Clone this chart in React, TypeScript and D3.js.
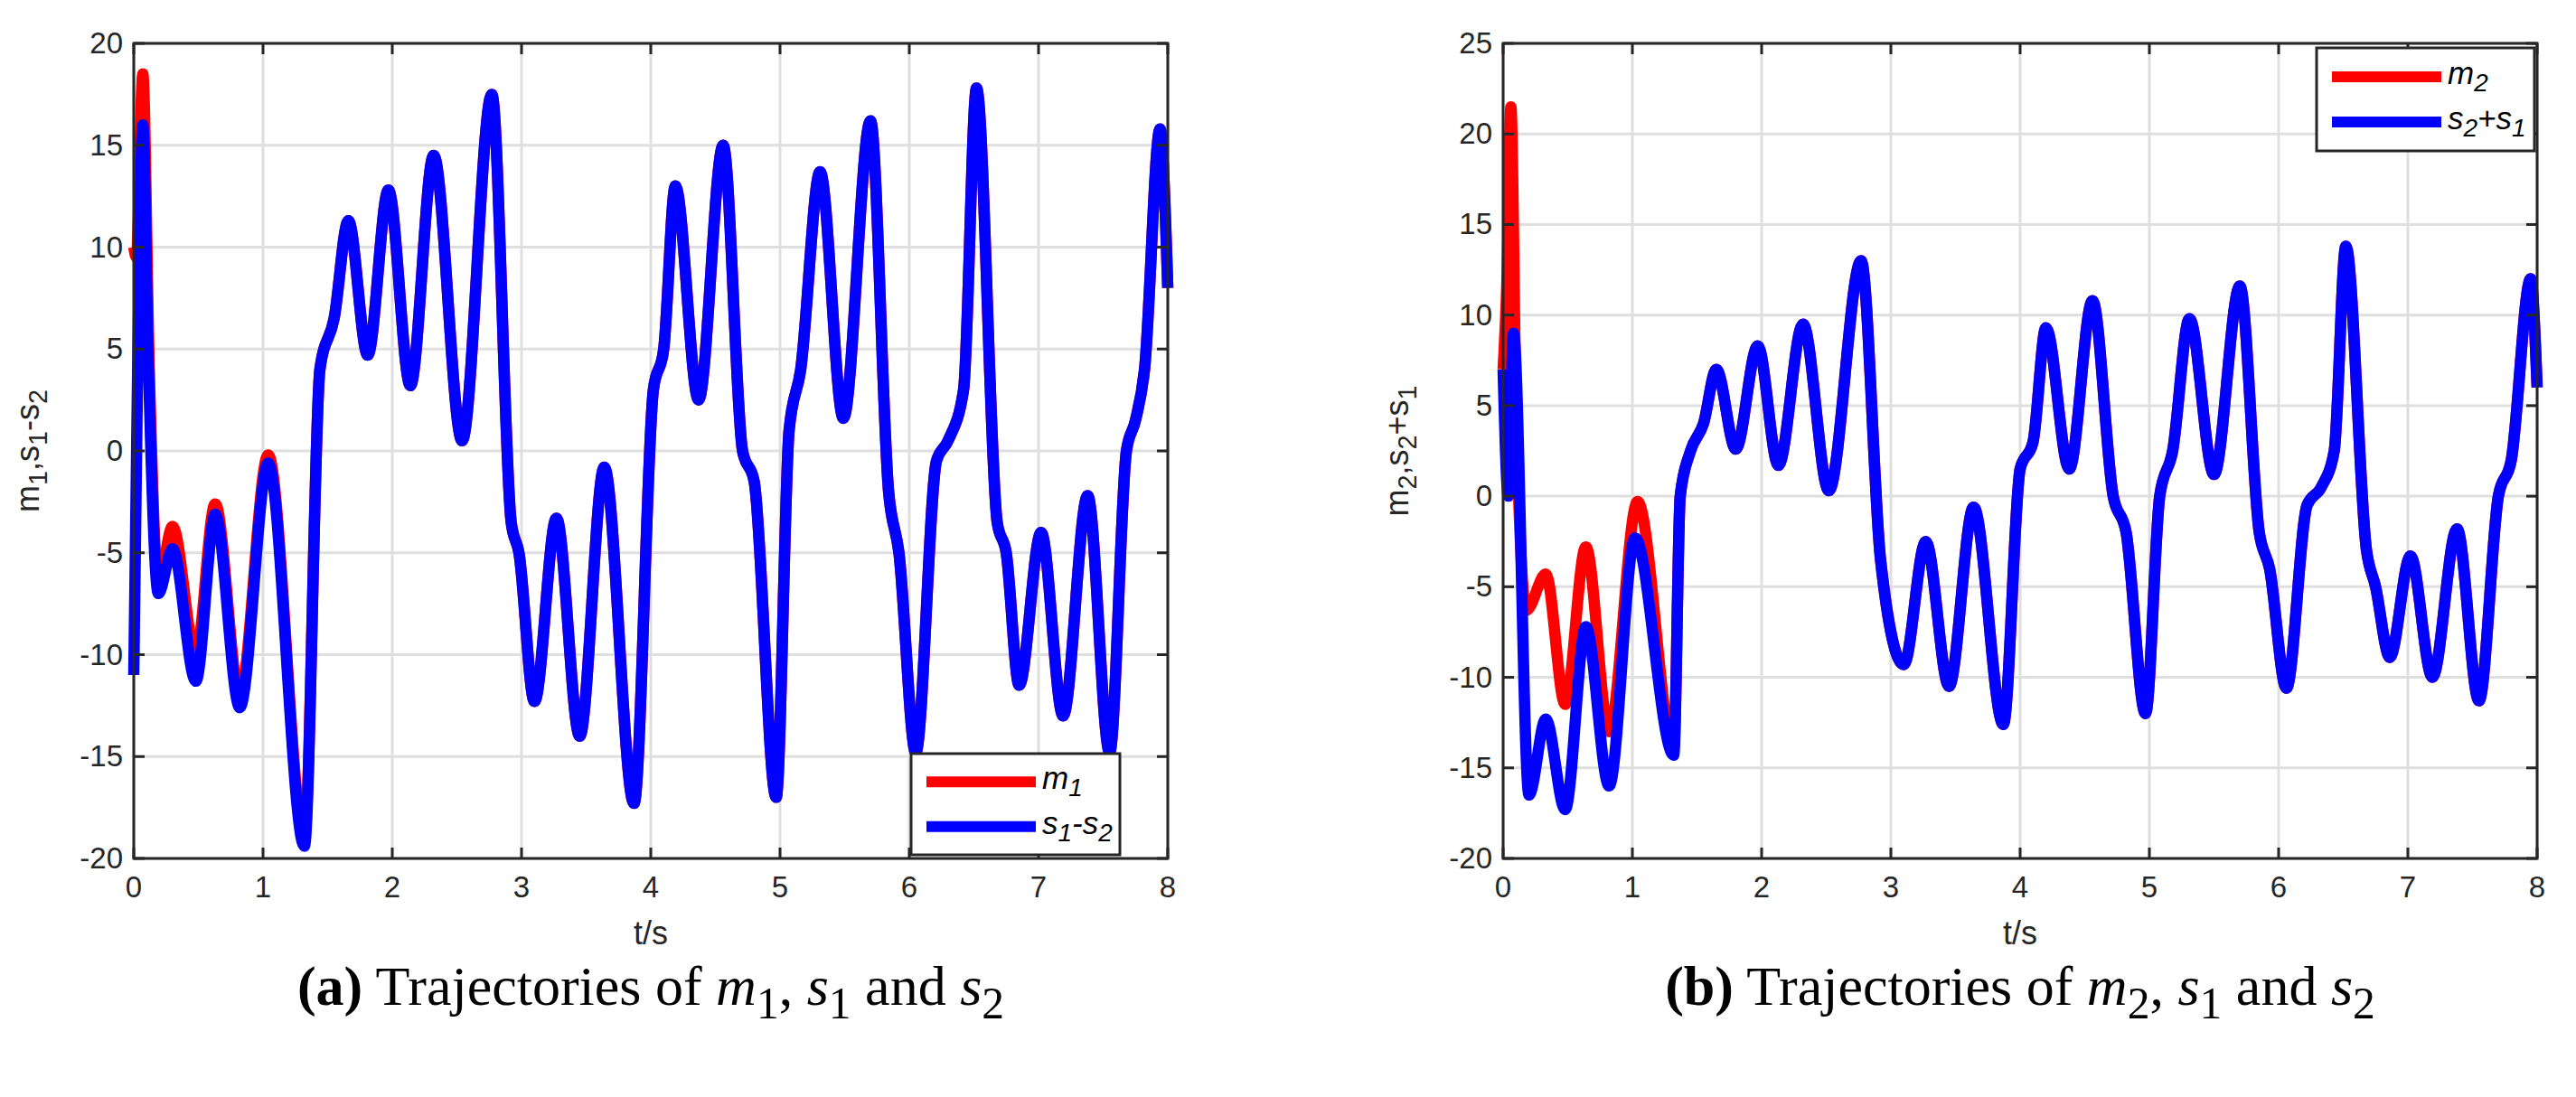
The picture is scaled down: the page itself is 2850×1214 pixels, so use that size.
import React from "react";
import * as d3 from "d3";

const xTicks = [0, 1, 2, 3, 4, 5, 6, 7, 8];
const yTicksA = [-20, -15, -10, -5, 0, 5, 10, 15, 20];
const yTicksB = [-20, -15, -10, -5, 0, 5, 10, 15, 20, 25];

// Panel (a): s1 - s2 (blue)
const tA = [0, 0.03, 0.07, 0.11, 0.19, 0.3, 0.48, 0.63, 0.82, 1.04, 1.32, 1.44, 1.55, 1.66, 1.81, 1.97, 2.14, 2.32, 2.54, 2.77, 2.92, 2.98, 3.1, 3.27, 3.45, 3.64, 3.87, 4.02, 4.1, 4.19, 4.37, 4.56, 4.71, 4.8, 4.97, 5.07, 5.16, 5.31, 5.49, 5.7, 5.84, 5.92, 6.05, 6.21, 6.3, 6.42, 6.52, 6.68, 6.75, 6.85, 7.02, 7.19, 7.38, 7.55, 7.68, 7.75, 7.82, 7.94, 8.0];
const blueA = [-11, 4, 16, 5, -7, -4.8, -11.3, -3.1, -12.6, -0.6, -19.4, 4, 6.5, 11.3, 4.7, 12.8, 3.2, 14.5, 0.5, 17.5, -3.5, -5, -12.3, -3.3, -14, -0.8, -17.3, 3, 5, 13, 2.5, 15, 0, -1.5, -17, 1, 4, 13.7, 1.6, 16.2, -2, -5, -14.8, -0.5, 0.5, 3, 17.8, -3.5, -5, -11.5, -4, -13, -2.2, -14.8, 0, 1.5, 4, 15.8, 8];
// m1 (red) early part; afterwards follows the blue one
const tRedA = [0, 0.02, 0.07, 0.12, 0.19, 0.3, 0.48, 0.63, 0.82, 1.04, 1.32];
const redAStart = [10, 9.5, 18.5, 4, -6.5, -3.7, -10, -2.6, -12, -0.2, -19];

// Panel (b): s2 + s1 (blue)
const tB = [0, 0.04, 0.08, 0.2, 0.33, 0.48, 0.64, 0.82, 1.02, 1.32, 1.37, 1.45, 1.55, 1.65, 1.8, 1.97, 2.13, 2.32, 2.52, 2.77, 2.92, 3.1, 3.27, 3.45, 3.64, 3.87, 4.0, 4.1, 4.2, 4.38, 4.56, 4.72, 4.82, 4.97, 5.08, 5.18, 5.31, 5.5, 5.7, 5.85, 5.93, 6.06, 6.22, 6.33, 6.43, 6.52, 6.68, 6.75, 6.86, 7.02, 7.19, 7.38, 7.55, 7.7, 7.8, 7.95, 8.0];
const blueB = [7, 0, 9, -16.5, -12.3, -17.3, -7.2, -16, -2.3, -14.3, 0, 2.5, 4, 7, 2.6, 8.3, 1.7, 9.5, 0.3, 13, -3.5, -9.3, -2.5, -10.5, -0.6, -12.6, 1.5, 3, 9.3, 1.5, 10.8, 0, -2, -12, 0, 2.5, 9.8, 1.2, 11.6, -2, -4, -10.6, -0.5, 0.5, 2.5, 13.8, -3, -5, -8.9, -3.3, -10, -1.8, -11.3, 0, 2, 12, 6];
const tRedB = [0, 0.03, 0.06, 0.1, 0.18, 0.33, 0.48, 0.64, 0.82, 1.04, 1.32];
const redBStart = [7, 12, 21.5, 5, -6.3, -4.3, -11.5, -2.8, -13, -0.3, -14];

const W = 2850, H = 1214;

type Panel = {
  left: number; right: number; top: number; bottom: number;
  yDomain: [number, number]; yTicks: number[];
  blueT: number[]; blueV: number[]; redT: number[]; redV: number[];
  legend: { x0: number; y0: number; x1: number; y1: number };
  id: string;
};

function Sub({ children }: { children: React.ReactNode }) {
  return <tspan baselineShift="-30%" fontSize="0.8em">{children}</tspan>;
}

function PanelView({ p, yLabel, legendLabels, caption }: { p: Panel; yLabel: React.ReactNode; legendLabels: React.ReactNode[]; caption: React.ReactNode }) {
  const x = d3.scaleLinear().domain([0, 8]).range([p.left, p.right]);
  const y = d3.scaleLinear().domain(p.yDomain).range([p.bottom, p.top]);
  const line = d3.line<[number, number]>().x(d => x(d[0])).y(d => y(d[1])).curve(d3.curveMonotoneX);
  const blue: [number, number][] = p.blueT.map((t, i) => [t, p.blueV[i]]);
  const lastRedT = p.redT[p.redT.length - 1];
  const red: [number, number][] = [
    ...p.redT.map((t, i) => [t, p.redV[i]] as [number, number]),
    ...blue.filter(d => d[0] > lastRedT),
  ];
  const axisC = "#262626";
  const tick = 12;
  const lg = p.legend;
  const cx = (p.left + p.right) / 2;
  return (
    <g>
      <defs>
        <clipPath id={"clip" + p.id}>
          <rect x={p.left - 7} y={p.top} width={p.right - p.left + 14} height={p.bottom - p.top} />
        </clipPath>
      </defs>
      {xTicks.map(t => <line key={"gx" + t} x1={x(t)} x2={x(t)} y1={p.top} y2={p.bottom} stroke="#dfdfdf" strokeWidth={3} />)}
      {p.yTicks.map(t => <line key={"gy" + t} x1={p.left} x2={p.right} y1={y(t)} y2={y(t)} stroke="#dfdfdf" strokeWidth={3} />)}
      <g clipPath={`url(#clip${p.id})`}>
        <path d={line(red) || ""} fill="none" stroke="#ff0000" strokeWidth={12.5} strokeLinejoin="round" />
        <path d={line(blue) || ""} fill="none" stroke="#0000ff" strokeWidth={12.5} strokeLinejoin="round" />
      </g>
      <rect x={p.left} y={p.top} width={p.right - p.left} height={p.bottom - p.top} fill="none" stroke={axisC} strokeWidth={3} />
      {xTicks.map(t => (
        <g key={"tx" + t}>
          <line x1={x(t)} x2={x(t)} y1={p.bottom} y2={p.bottom - tick} stroke={axisC} strokeWidth={3} />
          <line x1={x(t)} x2={x(t)} y1={p.top} y2={p.top + tick} stroke={axisC} strokeWidth={3} />
          <text x={x(t)} y={p.bottom + 43} textAnchor="middle" fontSize={33} fill={axisC}>{t}</text>
        </g>
      ))}
      {p.yTicks.map(t => (
        <g key={"ty" + t}>
          <line x1={p.left} x2={p.left + tick} y1={y(t)} y2={y(t)} stroke={axisC} strokeWidth={3} />
          <line x1={p.right} x2={p.right - tick} y1={y(t)} y2={y(t)} stroke={axisC} strokeWidth={3} />
          <text x={p.left - 12} y={y(t) + 11} textAnchor="end" fontSize={33} fill={axisC}>{t}</text>
        </g>
      ))}
      <text x={cx} y={p.bottom + 95} textAnchor="middle" fontSize={36} fill={axisC}>t/s</text>
      <text transform={`translate(${p.left - 105},${(p.top + p.bottom) / 2}) rotate(-90)`} textAnchor="middle" fontSize={36} fill={axisC}>{yLabel}</text>
      <rect x={lg.x0} y={lg.y0} width={lg.x1 - lg.x0} height={lg.y1 - lg.y0} fill="#fff" stroke={axisC} strokeWidth={3} />
      {["#ff0000", "#0000ff"].map((c, i) => {
        const ly = lg.y0 + (lg.y1 - lg.y0) * (i === 0 ? 0.28 : 0.72);
        return (
          <g key={c}>
            <line x1={lg.x0 + 17} x2={lg.x0 + 138} y1={ly} y2={ly} stroke={c} strokeWidth={12} />
            <text x={lg.x0 + 145} y={ly + 8} fontSize={35} fontStyle="italic" fill="#000">{legendLabels[i]}</text>
          </g>
        );
      })}
      <text x={cx} y={1112} textAnchor="middle" fontSize={62} fontFamily="'Liberation Serif', 'DejaVu Serif', serif" fill="#000">{caption}</text>
    </g>
  );
}

export default function App() {
  const pa: Panel = { left: 148, right: 1292, top: 48, bottom: 950, yDomain: [-20, 20], yTicks: yTicksA, blueT: tA, blueV: blueA, redT: tRedA, redV: redAStart, legend: { x0: 1008, y0: 834, x1: 1239, y1: 946 }, id: "a" };
  const pb: Panel = { left: 1663, right: 2807, top: 48, bottom: 950, yDomain: [-20, 25], yTicks: yTicksB, blueT: tB, blueV: blueB, redT: tRedB, redV: redBStart, legend: { x0: 2563, y0: 53, x1: 2804, y1: 167 }, id: "b" };
  return (
    <svg width={W} height={H} style={{ position: "absolute", left: 0, top: 0, background: "#fff" }} fontFamily="'Liberation Sans', Arial, sans-serif">
      <rect width={W} height={H} fill="#fff" />
      <PanelView p={pa}
        yLabel={<>m<Sub>1</Sub>,s<Sub>1</Sub>-s<Sub>2</Sub></>}
        legendLabels={[<>m<Sub>1</Sub></>, <>s<Sub>1</Sub>-s<Sub>2</Sub></>]}
        caption={<><tspan fontWeight="bold">(a)</tspan> Trajectories of <tspan fontStyle="italic">m</tspan><Sub>1</Sub>, <tspan fontStyle="italic">s</tspan><Sub>1</Sub> and <tspan fontStyle="italic">s</tspan><Sub>2</Sub></>} />
      <PanelView p={pb}
        yLabel={<>m<Sub>2</Sub>,s<Sub>2</Sub>+s<Sub>1</Sub></>}
        legendLabels={[<>m<Sub>2</Sub></>, <>s<Sub>2</Sub>+s<Sub>1</Sub></>]}
        caption={<><tspan fontWeight="bold">(b)</tspan> Trajectories of <tspan fontStyle="italic">m</tspan><Sub>2</Sub>, <tspan fontStyle="italic">s</tspan><Sub>1</Sub> and <tspan fontStyle="italic">s</tspan><Sub>2</Sub></>} />
    </svg>
  );
}
